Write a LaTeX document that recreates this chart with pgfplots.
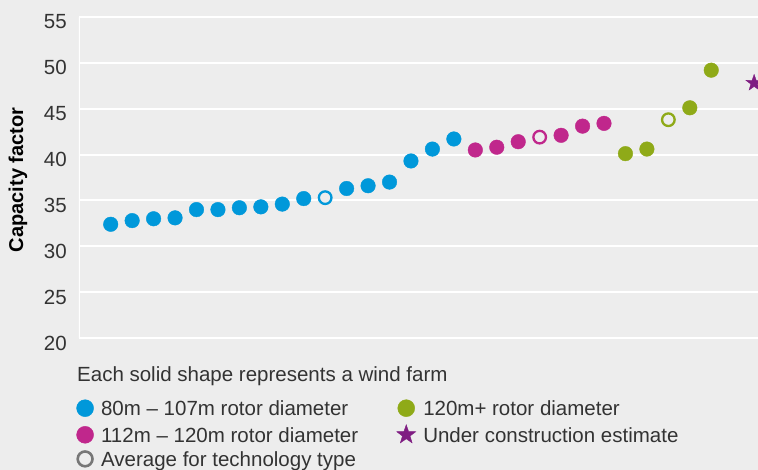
\documentclass[border=0pt]{standalone}
\usepackage{fontspec}
\setmainfont{Liberation Sans}
\usepackage{pgfplots}
\pgfplotsset{compat=1.18}
\definecolor{bgc}{HTML}{EDEDED}
\definecolor{cblue}{HTML}{0098DA}
\definecolor{cmag}{HTML}{C0278C}
\definecolor{cgreen}{HTML}{8FAA18}
\definecolor{cpurple}{HTML}{7F1D82}
\definecolor{cgrey}{HTML}{777777}
\definecolor{txt}{HTML}{333333}
\pgfdeclareplotmark{fstar}{%
  \pgfpathmoveto{\pgfpointpolar{90}{\pgfplotmarksize}}%
  \pgfpathlineto{\pgfpointpolar{126}{0.4\pgfplotmarksize}}%
  \pgfpathlineto{\pgfpointpolar{162}{\pgfplotmarksize}}%
  \pgfpathlineto{\pgfpointpolar{198}{0.4\pgfplotmarksize}}%
  \pgfpathlineto{\pgfpointpolar{234}{\pgfplotmarksize}}%
  \pgfpathlineto{\pgfpointpolar{270}{0.4\pgfplotmarksize}}%
  \pgfpathlineto{\pgfpointpolar{306}{\pgfplotmarksize}}%
  \pgfpathlineto{\pgfpointpolar{342}{0.4\pgfplotmarksize}}%
  \pgfpathlineto{\pgfpointpolar{18}{\pgfplotmarksize}}%
  \pgfpathlineto{\pgfpointpolar{54}{0.4\pgfplotmarksize}}%
  \pgfpathclose\pgfusepathqfillstroke}
\pgfplotsset{dotlegend/.style={legend image code/.code={\draw[##1, mark size=#1] plot coordinates {(0pt,2pt)};}}}
\begin{document}
\begin{tikzpicture}[x=1pt,y=1pt,font=\fontsize{20.5}{24}\selectfont]
\fill[bgc] (0,0) rectangle (758,470);
\begin{axis}[
  at={(79pt,132pt)}, anchor=south west,
  scale only axis, width=679pt, height=321pt,
  xmin=-1.478, xmax=30.18, ymin=20, ymax=55,
  axis line style={draw=none},
  xtick=\empty, ytick={20,25,...,55},
  ymajorgrids, major grid style={white, line width=2pt},
  major tick length=0pt,
  tick label style={font=\fontsize{20.5}{24}\selectfont, text=txt},
  yticklabel style={inner xsep=0pt, xshift=-12pt, yshift=-5pt},
  /pgf/number format/assume math mode=true,
  legend columns=2,
  legend cell align=left,
  legend style={draw=none, fill=none, inner sep=0pt,
    at={(axis description cs:0,0)}, anchor=north west, xshift=-2.6pt, yshift=-61.5pt,
    font=\fontsize{20.5}{24}\selectfont, text=txt,
    nodes={inner xsep=0pt, inner ysep=0pt, text height=15pt, text depth=4pt},
    row sep=5.1pt,
    /tikz/every odd column/.append style={column sep=7.5pt},
    /tikz/every even column/.append style={column sep=38.5pt}},
]
\draw[white, line width=2pt] (rel axis cs:0,0) -- (rel axis cs:0,1);
% solid: 80-107m
\addplot[only marks, mark=*, mark size=7.3pt, color=cblue, dotlegend=8.5pt] coordinates {
 (0,32.4) (1,32.8) (2,33.0) (3,33.1) (4,34.0) (5,34.0) (6,34.2) (7,34.3) (8,34.6) (9,35.2)
 (11,36.3) (12,36.6) (13,37.0) (14,39.3) (15,40.6) (16,41.7)};
\addlegendentry{80m -- 107m rotor diameter}
% solid: 120m+
\addplot[only marks, mark=*, mark size=7.3pt, color=cgreen, dotlegend=8.5pt] coordinates {
 (24,40.1) (25,40.6) (27,45.1) (28,49.2)};
\addlegendentry{120m+ rotor diameter}
% solid: 112-120m
\addplot[only marks, mark=*, mark size=7.3pt, color=cmag, dotlegend=8.5pt] coordinates {
 (17,40.5) (18,40.8) (19,41.4) (21,42.1) (22,43.1) (23,43.4)};
\addlegendentry{112m -- 120m rotor diameter}
% under construction
\addplot[only marks, mark=fstar, mark size=8.6pt, color=cpurple, dotlegend=10pt] coordinates {(30,47.8)};
\addlegendentry{Under construction estimate}
\addlegendimage{only marks, mark=*, draw=cgrey, fill=bgc, line width=2.6pt, dotlegend=7.4pt}
\addlegendentry{Average for technology type}
% averages
\addplot[only marks, mark=*, mark size=6.3pt, draw=cblue, fill=bgc, line width=2.3pt, forget plot] coordinates {(10,35.3)};
\addplot[only marks, mark=*, mark size=6.3pt, draw=cmag, fill=bgc, line width=2.3pt, forget plot] coordinates {(20,41.9)};
\addplot[only marks, mark=*, mark size=6.3pt, draw=cgreen, fill=bgc, line width=2.3pt, forget plot] coordinates {(26,43.8)};
\end{axis}
\node[anchor=base west, inner sep=0pt, text=txt] at (77,88.3) {Each solid shape represents a wind farm};
\node[rotate=90, font=\fontsize{20}{24}\selectfont\bfseries, text=black] at (18,290) {Capacity factor};
\pgfresetboundingbox
\useasboundingbox (0,0) rectangle (758,470);
\end{tikzpicture}
\end{document}
